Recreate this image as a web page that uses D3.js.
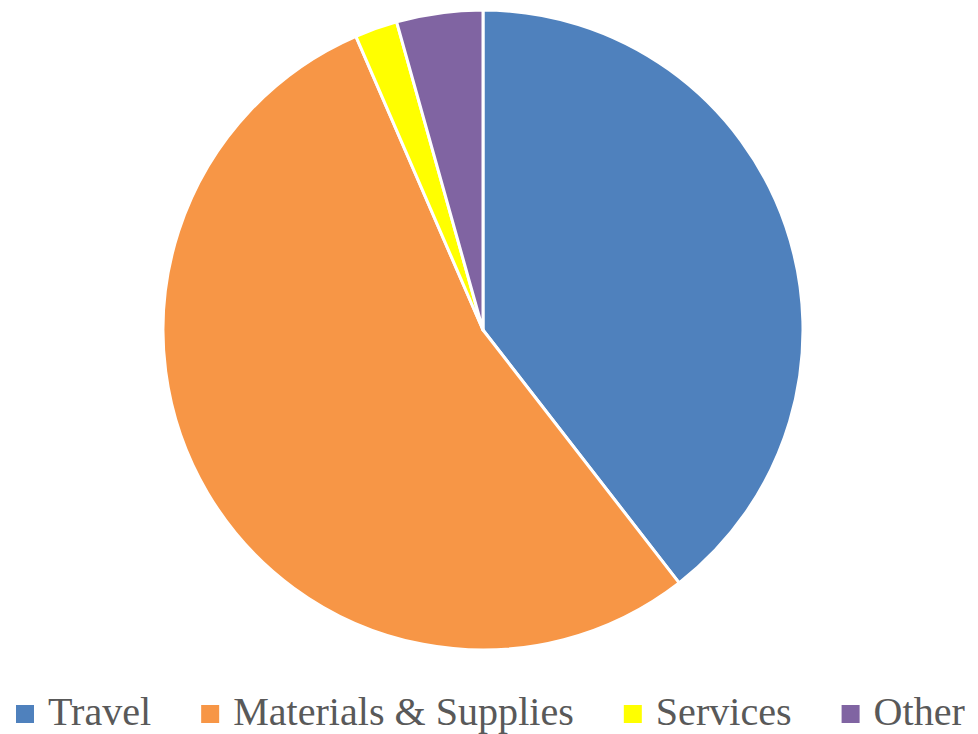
<!DOCTYPE html>
<html>
<head>
<meta charset="utf-8">
<script src="https://cdn.jsdelivr.net/npm/d3@7"></script>
<style>
  html, body { margin: 0; padding: 0; background: #fff; }
  svg { display: block; }
</style>
</head>
<body>
<svg id="chart" width="978" height="734"></svg>
<script>
const categories = ["Travel", "Materials & Supplies", "Services", "Other"];
const values = [39.5, 54.0, 2.15, 4.35];
const colors = ["#4F81BD", "#F79646", "#FFFF00", "#8064A2"];

const svg = d3.select("#chart");
const cx = 483, cy = 330, r = 320;

const data = categories.map((c, i) => ({ name: c, value: values[i], color: colors[i] }));
const pie = d3.pie().sort(null).value(d => d.value).startAngle(0).endAngle(2 * Math.PI);
const arc = d3.arc().innerRadius(0).outerRadius(r);

const g = svg.append("g").attr("transform", `translate(${cx},${cy})`);
g.selectAll("path")
  .data(pie(data))
  .join("path")
  .attr("d", arc)
  .attr("fill", d => d.data.color)
  .attr("stroke", "#fff")
  .attr("stroke-width", 3)
  .attr("stroke-linejoin", "round");

// Legend
const fontFamily = "'Liberation Serif', 'Times New Roman', serif";
let fontSize = 38;
const sq = 18, sqGap = 14, itemGap = 50;
const legendWidth = 949, legendLeft = 16;
const legend = svg.append("g");
const items = legend.selectAll("g.item").data(data).join("g").attr("class", "item");
items.append("rect")
  .attr("width", sq).attr("height", sq)
  .attr("y", -20)
  .attr("fill", d => d.color);
const texts = items.append("text")
  .attr("x", sq + sqGap)
  .attr("y", 0)
  .style("font-family", fontFamily)
  .style("font-size", fontSize + "px")
  .attr("fill", "#595959")
  .text(d => d.name);

function measure() {
  const w = [];
  texts.each(function() { w.push(this.getComputedTextLength()); });
  return w;
}
let tw = measure();
const fixed = (sq + sqGap) * data.length + itemGap * (data.length - 1);
const textTotal = tw.reduce((a, b) => a + b, 0);
fontSize = fontSize * (legendWidth - fixed) / textTotal;
texts.style("font-size", fontSize + "px");
tw = measure();
let x = legendLeft;
items.each(function(d, i) {
  d3.select(this).attr("transform", `translate(${x},725)`);
  x += sq + sqGap + tw[i] + itemGap;
});
</script>
</body>
</html>
